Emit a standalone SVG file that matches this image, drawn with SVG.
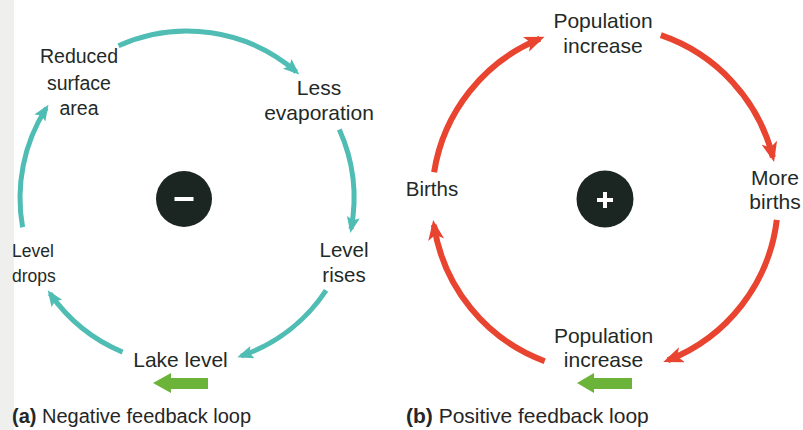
<svg xmlns="http://www.w3.org/2000/svg" width="803" height="430" viewBox="0 0 803 430">
<style>
  .lbl { font-family: "Liberation Sans", Arial, sans-serif; fill: #1f2a27; text-anchor: middle; }
  .cap { font-family: "Liberation Sans", Arial, sans-serif; fill: #262626; font-size: 20px; }
  .teal { fill: none; stroke: #4fbdb4; stroke-width: 5; marker-end: url(#tealHead); }
  .red { fill: none; stroke: #e8442f; stroke-width: 6; marker-end: url(#redHead); }
  .green { fill: #6cb33a; }
  .sign { fill: #1b2622; }
</style>
<defs>
  <marker id="tealHead" markerUnits="userSpaceOnUse" markerWidth="18" markerHeight="15" refX="12" refY="6.5" orient="auto">
    <path d="M0,0 L16,6.5 L0,13 L3,6.5 z" fill="#4fbdb4"/>
  </marker>
  <marker id="redHead" markerUnits="userSpaceOnUse" markerWidth="22" markerHeight="18" refX="15" refY="8" orient="auto">
    <path d="M0,0 L20,8 L0,16 L5,8 z" fill="#e8442f"/>
  </marker>
</defs>
<rect x="0" y="0" width="803" height="430" fill="#ffffff"/>
<rect x="0" y="0" width="14" height="430" fill="#efefed"/>

<g id="connectors">
  <path class="teal" d="M118.5,45.7 A167,167 0 0 1 296.3,71.8"/>
  <path class="teal" d="M339.3,129.5 A167,167 0 0 1 351.1,229.0"/>
  <path class="teal" d="M326.1,290.4 A167,167 0 0 1 241.1,356.0"/>
  <path class="teal" d="M122.6,352.1 A167,167 0 0 1 50.0,293.5"/>
  <path class="teal" d="M22.6,227.3 A167,167 0 0 1 46.3,108.0"/>

  <path class="red" d="M434.1,172.2 A173,173 0 0 1 539.9,38.7"/>
  <path class="red" d="M660.8,35.2 A173,173 0 0 1 772.9,157.2"/>
  <path class="red" d="M776.8,219.8 A173,173 0 0 1 667.9,360.2"/>
  <path class="red" d="M544.7,361.2 A173,173 0 0 1 433.9,224.9"/>

  <polygon class="green" points="153,383 171,373 171,378 208,378 208,389 171,389 171,393"/>
  <polygon class="green" points="577,383 594,373 594,378 632,378 632,389 594,389 594,393"/>
</g>

<g id="minus-sign">
  <circle class="sign" cx="184" cy="199" r="28"/>
  <rect x="174.5" y="197" width="19" height="4" fill="#ffffff"/>
</g>
<g id="plus-sign">
  <circle class="sign" cx="605" cy="199" r="28.5"/>
  <rect x="597" y="198" width="16" height="4" fill="#ffffff"/>
  <rect x="603" y="192" width="4" height="16" fill="#ffffff"/>
</g>

<g id="reduced-surface-area">
  <text class="lbl" x="79" y="63" font-size="19.5">Reduced</text>
  <text class="lbl" x="79" y="90" font-size="19.5">surface</text>
  <text class="lbl" x="79" y="115" font-size="19.5">area</text>
</g>
<g id="less-evaporation">
  <text class="lbl" x="319" y="95" font-size="21">Less</text>
  <text class="lbl" x="319" y="120" font-size="21">evaporation</text>
</g>
<g id="level-rises">
  <text class="lbl" x="344" y="257" font-size="20.5">Level</text>
  <text class="lbl" x="344" y="282" font-size="20.5">rises</text>
</g>
<g id="lake-level">
  <text class="lbl" x="180.5" y="367" font-size="21">Lake level</text>
</g>
<g id="level-drops">
  <text class="lbl" x="12" y="257" font-size="17.5" text-anchor="start" style="text-anchor:start">Level</text>
  <text class="lbl" x="12" y="282" font-size="17.5" style="text-anchor:start">drops</text>
</g>

<g id="population-increase-top">
  <text class="lbl" x="603" y="28" font-size="21">Population</text>
  <text class="lbl" x="603" y="53" font-size="21">increase</text>
</g>
<g id="more-births">
  <text class="lbl" x="775" y="185" font-size="21">More</text>
  <text class="lbl" x="775" y="209" font-size="21">births</text>
</g>
<g id="population-increase-bottom">
  <text class="lbl" x="603.5" y="343" font-size="21">Population</text>
  <text class="lbl" x="603.5" y="367" font-size="21">increase</text>
</g>
<g id="births">
  <text class="lbl" x="432" y="196" font-size="20.5">Births</text>
</g>

<g id="caption-a">
  <text class="cap" x="12" y="423"><tspan font-weight="bold">(a)</tspan> Negative feedback loop</text>
</g>
<g id="caption-b">
  <text class="cap" x="406" y="423" font-size="21" style="font-size:21px"><tspan font-weight="bold">(b)</tspan> Positive feedback loop</text>
</g>
</svg>
